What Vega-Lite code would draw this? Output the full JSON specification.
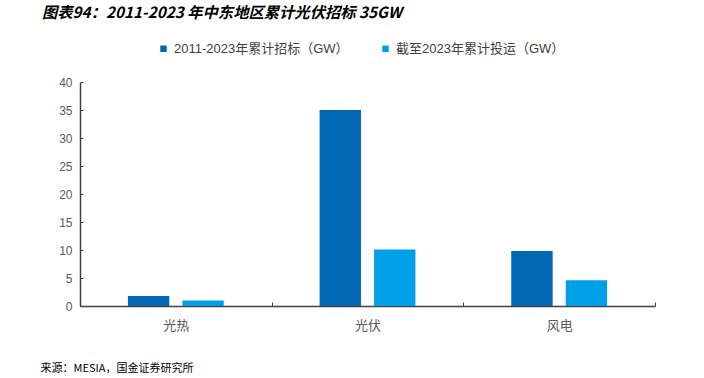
{
  "$schema": "https://vega.github.io/schema/vega-lite/v6.json",
  "autosize": {"type": "none"},
  "width": 575,
  "height": 224,
  "padding": {"left": 80, "top": 82, "right": 49, "bottom": 72},
  "background": "white",
  "title": {
    "text": "图表94：2011-2023 年中东地区累计光伏招标 35GW",
    "anchor": "start",
    "frame": "group",
    "dx": -38,
    "offset": 21,
    "font": "Noto Sans CJK SC",
    "fontSize": 15.3,
    "fontWeight": "bold",
    "fontStyle": "italic",
    "color": "#000000"
  },
  "data": {
    "values": [
      {"类别": "光热", "系列": "2011-2023年累计招标（GW）", "值": 1.8},
      {"类别": "光热", "系列": "截至2023年累计投运（GW）", "值": 1.0},
      {"类别": "光伏", "系列": "2011-2023年累计招标（GW）", "值": 35.0},
      {"类别": "光伏", "系列": "截至2023年累计投运（GW）", "值": 10.1},
      {"类别": "风电", "系列": "2011-2023年累计招标（GW）", "值": 9.8},
      {"类别": "风电", "系列": "截至2023年累计投运（GW）", "值": 4.6}
    ]
  },
  "mark": {"type": "bar"},
  "encoding": {
    "x": {
      "field": "类别",
      "type": "nominal",
      "sort": ["光热", "光伏", "风电"],
      "scale": {"paddingInner": 0, "paddingOuter": 0},
      "axis": {
        "title": "来源：MESIA，国金证券研究所",
        "titleAnchor": "start",
        "titleAlign": "left",
        "titleBaseline": "middle",
        "titleX": -40,
        "titleY": 62,
        "titleFont": "Noto Sans CJK SC",
        "titleFontSize": 11,
        "titleFontWeight": "normal",
        "titleColor": "#000000",
        "labelAngle": 0,
        "labelFont": "Liberation Sans, Noto Sans CJK SC",
        "labelFontSize": 13,
        "labelColor": "#595959",
        "labelPadding": 23,
        "labelBaseline": "middle",
        "tickBand": "extent",
        "tickSize": -4,
        "tickColor": "#404040",
        "domainColor": "#404040",
        "domainWidth": 1.5
      }
    },
    "xOffset": {
      "field": "系列",
      "type": "nominal",
      "scale": {"paddingInner": 0.24, "paddingOuter": 0.88}
    },
    "y": {
      "field": "值",
      "type": "quantitative",
      "scale": {"domain": [0, 40]},
      "axis": {
        "title": null,
        "values": [0, 5, 10, 15, 20, 25, 30, 35, 40],
        "grid": false,
        "labelFont": "Liberation Sans",
        "labelFontSize": 12,
        "labelColor": "#595959",
        "labelPadding": 11,
        "tickSize": -3,
        "tickColor": "#404040",
        "domainColor": "#404040",
        "domainWidth": 1.5
      }
    },
    "color": {
      "field": "系列",
      "type": "nominal",
      "scale": {
        "domain": ["2011-2023年累计招标（GW）", "截至2023年累计投运（GW）"],
        "range": ["#0068B5", "#00A0E9"]
      },
      "legend": {
        "title": null,
        "orient": "none",
        "direction": "horizontal",
        "legendX": 77,
        "legendY": -40,
        "symbolType": "square",
        "symbolSize": 42,
        "symbolStrokeWidth": 0,
        "labelFont": "Liberation Sans, Noto Sans CJK SC",
        "labelFontSize": 13,
        "labelColor": "#404040",
        "labelOffset": 4,
        "labelLimit": 0,
        "columnPadding": 30,
        "padding": 0
      }
    }
  },
  "config": {
    "view": {"stroke": null}
  }
}
